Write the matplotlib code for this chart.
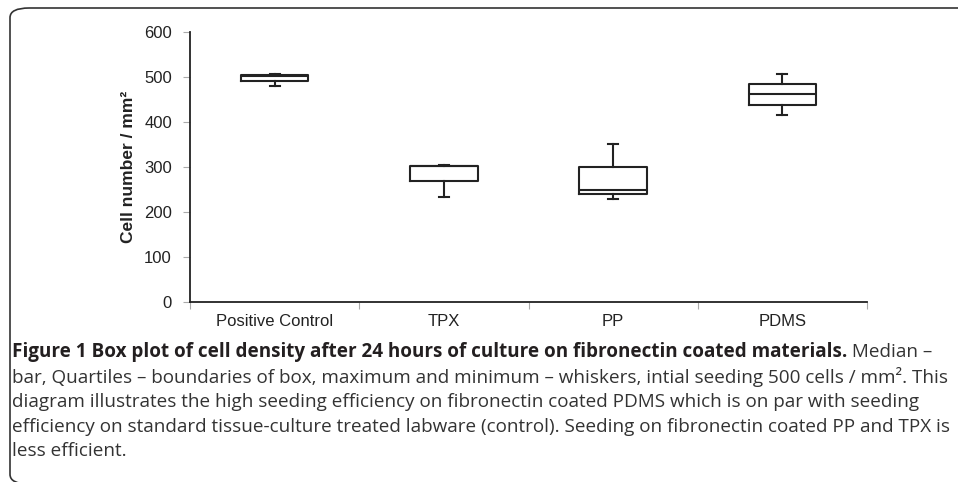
import matplotlib
matplotlib.use("Agg")
import matplotlib.pyplot as plt
from matplotlib.patches import FancyBboxPatch

# =====================================
# Data
# =====================================
categories = ["Positive Control", "TPX", "PP", "PDMS"]
minimum = [481, 234, 228, 416]
q1 = [492, 268, 240, 438]
median = [503, 302, 250, 463]
q3 = [505, 303, 301, 484]
maximum = [507, 305, 352, 506]

y_ticks = [0, 100, 200, 300, 400, 500, 600]

caption_bold = ("Figure 1 Box plot of cell density after 24 hours of culture "
                "on fibronectin coated materials.")
caption_lines = [
    " Median \u2013",
    "bar, Quartiles \u2013 boundaries of box, maximum and minimum \u2013 whiskers, "
    "intial seeding 500 cells / mm\u00b2. This",
    "diagram illustrates the high seeding efficiency on fibronectin coated PDMS "
    "which is on par with seeding",
    "efficiency on standard tissue-culture treated labware (control). Seeding on "
    "fibronectin coated PP and TPX is",
    "less efficient.",
]

W, H = 958, 482


def fx(px):
    return px / W


def fy(py):
    return 1 - py / H


# =====================================
# Figure
# =====================================
fig = plt.figure(figsize=(W / 100, H / 100), dpi=100)

# rounded frame (open on right and bottom, like the page crop)
frame = FancyBboxPatch((fx(10), fy(484)), 1.2, fy(8) - fy(484),
                       boxstyle="round,pad=0,rounding_size=0.02",
                       transform=fig.transFigure, fill=False,
                       edgecolor="#333333", linewidth=1.2)
fig.patches.append(frame)

ax = fig.add_axes([fx(190), fy(302), fx(867) - fx(190), fy(32) - fy(302)])

stats = []
for i, name in enumerate(categories):
    stats.append({
        "label": name,
        "whislo": minimum[i],
        "q1": q1[i],
        "med": median[i],
        "q3": q3[i],
        "whishi": maximum[i],
        "fliers": [],
    })

positions = [0.5, 1.5, 2.5, 3.5]
ax.bxp(stats, positions=positions, widths=0.4, showfliers=False,
       boxprops=dict(color="#222222", linewidth=1.5),
       medianprops=dict(color="#222222", linewidth=1.5),
       whiskerprops=dict(color="#222222", linewidth=1.5),
       capprops=dict(color="#222222", linewidth=1.5),
       capwidths=0.06)

ax.set_xlim(0, 4)
ax.set_ylim(0, 600)
ax.set_yticks(y_ticks)
ax.set_yticklabels([str(v) for v in y_ticks], fontsize=12,
                   family="Liberation Sans", color="#222222")
ax.set_xticks([0, 1, 2, 3, 4])
ax.set_xticklabels([])
ax.set_xticks(positions, minor=True)
ax.set_xticklabels(categories, minor=True, fontsize=12,
                   family="Liberation Sans", color="#222222")
ax.tick_params(axis="x", which="minor", length=0, pad=9)
ax.tick_params(axis="x", which="major", length=5, color="#aaaaaa",
               direction="out")
ax.tick_params(axis="y", length=5, color="#aaaaaa", direction="out", pad=8)

for side in ["top", "right"]:
    ax.spines[side].set_visible(False)
for side in ["left", "bottom"]:
    ax.spines[side].set_color("#222222")
    ax.spines[side].set_linewidth(1.3)

ax.set_ylabel("Cell number / mm\u00b2", fontsize=12.5, fontweight="bold",
              family="Liberation Sans", labelpad=6, color="#222222")

# =====================================
# Caption
# =====================================
renderer = fig.canvas.get_renderer()

# fit the font size so the second line spans the full text width
probe = fig.text(0, 0, caption_lines[1], fontsize=10, family="Open Sans")
probe_w = probe.get_window_extent(renderer).width
probe.remove()
cap_size = 10 * (950 - 12) / probe_w

line_y = [352, 377, 402, 427, 451]

bold = fig.text(fx(12), fy(line_y[0]), caption_bold, fontsize=cap_size,
                family="Open Sans", fontweight="bold", va="center",
                color="#231f20")
bold_w = bold.get_window_extent(renderer).width
fig.text(fx(12 + bold_w), fy(line_y[0]), caption_lines[0], fontsize=cap_size,
         family="Open Sans", va="center", color="#333333")

for text, y in zip(caption_lines[1:], line_y[1:]):
    fig.text(fx(12), fy(y), text, fontsize=cap_size, family="Open Sans",
             va="center", color="#333333")

fig.savefig("out.png", dpi=100)
